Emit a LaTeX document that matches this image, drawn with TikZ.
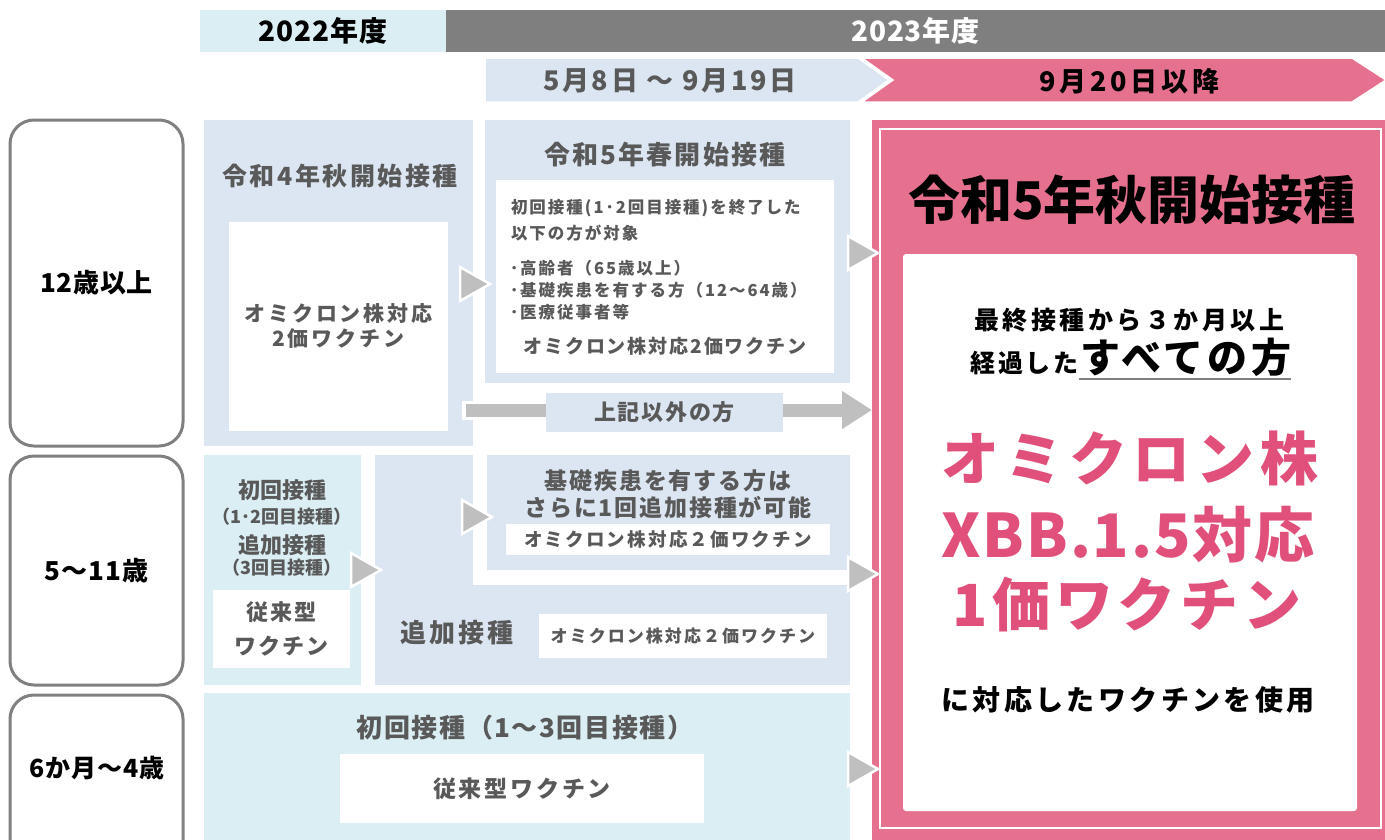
\documentclass[tikz,border=0pt]{standalone}
\usepackage{fontspec}
\setmainfont{Noto Sans CJK JP}
\usetikzlibrary{arrows.meta}
\definecolor{bgA}{HTML}{DCE6F2}
\definecolor{bgB}{HTML}{DAEEF3}
\definecolor{txg}{HTML}{595959}
\definecolor{hdr}{HTML}{7F7F7F}
\definecolor{pinkA}{HTML}{E6718F}
\definecolor{pinkT}{HTML}{E0507A}
\definecolor{trig}{HTML}{BFBFBF}
\definecolor{ageline}{HTML}{808080}
\newcommand\fsz[1]{\fontsize{#1}{#1}\selectfont}
\newcommand\lsp[1]{\addfontfeatures{LetterSpace=#1}}
\newcommand\triarrow[2]{\filldraw[fill=trig,draw=white,line width=2.5pt] ({#1-30},{#2-17}) -- (#1,#2) -- ({#1-30},{#2+17}) -- cycle;}
\begin{document}
\begin{tikzpicture}[x=1pt,y=-1pt,
  every node/.style={inner sep=0pt,outer sep=0pt,font=\bfseries},
  rectbox/.style={anchor=north west,draw=none},
  panelA/.style={rectbox,fill=bgA},
  panelB/.style={rectbox,fill=bgB},
  wbox/.style={rectbox,fill=white},
  agebox/.style={rectbox,draw=ageline,line width=3pt,rounded corners=24pt,fill=white},
  gtxt/.style={text=txg,align=center},
  ktxt/.style={text=black,align=center}]
\useasboundingbox (0,0) rectangle (1385,839);
% headers
\node[panelB,minimum width=246pt,minimum height=42pt] (h22) at (200,10) {};
\node[rectbox,fill=hdr,minimum width=939pt,minimum height=42pt] (h23) at (446,10) {};
\node[ktxt,font=\bfseries\fsz{28}\lsp{3}] at (h22.center) {2022年度};
\node[text=white,font=\bfseries\fsz{28}\lsp{3}] at (h23.center) {2023年度};
% chevrons
\filldraw[fill=bgA,draw=white,line width=1.5pt] (485,58) -- (858,58) -- (889,80) -- (858,102) -- (485,102) -- cycle;
\filldraw[fill=pinkA,draw=white,line width=1.5pt] (862,58) -- (1352,58) -- (1386,80) -- (1352,102) -- (862,102) -- (893,80) -- cycle;
\node[gtxt,font=\bfseries\fsz{27}\lsp{10}] (per1) at (670,81) {5月8日 ～ 9月19日};
\node[ktxt,font=\bfseries\fsz{27}\lsp{14}] (per2) at (1129,81) {9月20日以降};
% age boxes
\node[agebox,minimum width=173pt,minimum height=326pt] (age1) at (10,120) {};
\node[ktxt,font=\bfseries\fsz{26}\lsp{3}] at (age1.center) {12歳以上};
\node[agebox,minimum width=173pt,minimum height=229pt] (age2) at (10,456) {};
\node[ktxt,font=\bfseries\fsz{26}\lsp{4}] at (age2.center) {5～11歳};
\node[agebox,minimum width=173pt,minimum height=170pt] (age3) at (10,695) {};
\node[ktxt,font=\bfseries\fsz{25}\lsp{3}] at (97,768) {6か月～4歳};
% row 1
\node[panelA,minimum width=269pt,minimum height=326pt] (r4) at (204,120) {};
\node[gtxt,font=\bfseries\fsz{25}\lsp{10}] at (340,176) {令和4年秋開始接種};
\node[wbox,minimum width=219pt,minimum height=209pt] (r4w) at (229,222) {};
\node[gtxt,font=\bfseries\fsz{21}\lsp{14},align=center] at (r4w.center) {オミクロン株対応\\[4pt]2価ワクチン};
\node[panelA,minimum width=365pt,minimum height=263pt] (r5s) at (485,120) {};
\node[gtxt,font=\bfseries\fsz{26}\lsp{8}] at (665,155) {令和5年春開始接種};
\node[wbox,minimum width=338pt,minimum height=193pt] (r5w) at (496,180) {};
\node[gtxt,anchor=west,font=\bfseries\fsz{16.5}\lsp{12}] at (511,208) {初回接種(1･2回目接種)を終了した};
\node[gtxt,anchor=west,font=\bfseries\fsz{16.5}\lsp{12}] at (511,233) {以下の方が対象};
\node[gtxt,anchor=west,font=\bfseries\fsz{16.5}\lsp{12}] at (510,268) {･高齢者（65歳以上）};
\node[gtxt,anchor=west,font=\bfseries\fsz{16.5}\lsp{12}] at (510,290) {･基礎疾患を有する方（12～64歳）};
\node[gtxt,anchor=west,font=\bfseries\fsz{16.5}\lsp{12}] at (510,312) {･医療従事者等};
\node[gtxt,font=\bfseries\fsz{19}\lsp{10}] at (665,346) {オミクロン株対応2価ワクチン};
% row 2
\node[panelB,minimum width=157pt,minimum height=230pt] (c5) at (204,455) {};
\node[gtxt,font=\bfseries\fsz{22}] at (282,490) {初回接種};
\node[gtxt,font=\bfseries\fsz{18}] at (282,517) {（1･2回目接種）};
\node[gtxt,font=\bfseries\fsz{22}] at (282,545) {追加接種};
\node[gtxt,font=\bfseries\fsz{18}] at (282,568) {（3回目接種）};
\node[wbox,minimum width=137pt,minimum height=78pt] (c5w) at (213,590) {};
\node[gtxt,font=\bfseries\fsz{22}\lsp{8},align=center] at (c5w.center) {従来型\\[12pt]ワクチン};
\node[panelA,minimum width=475pt,minimum height=230pt] (add) at (375,455) {};
\fill[white] (473,455) rectangle (487,585);
\fill[white] (473,570) rectangle (850,585);
\node[panelA,minimum width=363pt,minimum height=113pt] (adds) at (487,457) {};
\node[gtxt,font=\bfseries\fsz{23}\lsp{8}] at (668,481) {基礎疾患を有する方は};
\node[gtxt,font=\bfseries\fsz{23}\lsp{8}] at (668,508) {さらに1回追加接種が可能};
\node[wbox,minimum width=324pt,minimum height=31pt] (addsw) at (506,524) {};
\node[gtxt,font=\bfseries\fsz{18.5}\lsp{12}] at (addsw.center) {オミクロン株対応２価ワクチン};
\node[gtxt,font=\bfseries\fsz{26}\lsp{12}] at (457,633) {追加接種};
\node[wbox,minimum width=288pt,minimum height=44pt] (addw) at (539,614) {};
\node[gtxt,font=\bfseries\fsz{17}\lsp{12}] at (addw.center) {オミクロン株対応２価ワクチン};
% row 3
\node[panelB,minimum width=646pt,minimum height=150pt] (inf) at (204,693) {};
\node[gtxt,font=\bfseries\fsz{26}\lsp{6}] at (525,728) {初回接種（1～3回目接種）};
\node[wbox,minimum width=364pt,minimum height=69pt] (infw) at (340,754) {};
\node[gtxt,font=\bfseries\fsz{23}\lsp{12}] at (infw.center) {従来型ワクチン};
% pink main box
\node[rectbox,fill=pinkA,minimum width=515pt,minimum height=725pt] (aut) at (872,120) {};
\draw[white,line width=1.5pt] (880,129) rectangle (1381,828);
\node[ktxt,font=\bfseries\fsz{52}] at (1132,200) {令和5年秋開始接種};
\node[rectbox,fill=white,rounded corners=3pt,minimum width=454pt,minimum height=557pt] (autw) at (903,254) {};
\node[ktxt,font=\bfseries\fsz{25}\lsp{14}] at (1129,320) {最終接種から３か月以上};
\node[ktxt,anchor=base east,font=\bfseries\fsz{25}\lsp{10}] (l2a) at (1078,372) {経過した};
\node[ktxt,anchor=base west,font=\bfseries\fsz{40}\lsp{10}] (l2b) at (1080,372) {すべての方};
\draw[hdr,line width=2pt] (1079,379) -- (1291,379);
\node[text=pinkT,font=\bfseries\fsz{58}\lsp{10}] at (1130,458) {オミクロン株};
\node[text=pinkT,font=\bfseries\fsz{60}\lsp{3}] at (1128,535) {XBB.1.5対応};
\node[text=pinkT,font=\bfseries\fsz{58}\lsp{8}] at (1127,605) {1価ワクチン};
\node[ktxt,font=\bfseries\fsz{28}\lsp{12}] at (1128,700) {に対応したワクチンを使用};
% other people arrow
\coordinate (oth) at (462,410);
\draw[white,line width=19pt] (oth) -- (540,410);
\draw[trig,line width=13pt,-{Triangle[width=36pt,length=30pt]}] (466,410) -- (aut.west |- oth);
\node[panelA,minimum width=237pt,minimum height=39pt] (othl) at (546,393) {};
\node[gtxt,font=\bfseries\fsz{22}\lsp{8}] at (othl.center) {上記以外の方};
% triangle arrows
\triarrow{490}{284}
\triarrow{878}{253}
\triarrow{492}{517}
\triarrow{381}{570}
\triarrow{878}{574}
\triarrow{878}{769}
\end{tikzpicture}
\end{document}
